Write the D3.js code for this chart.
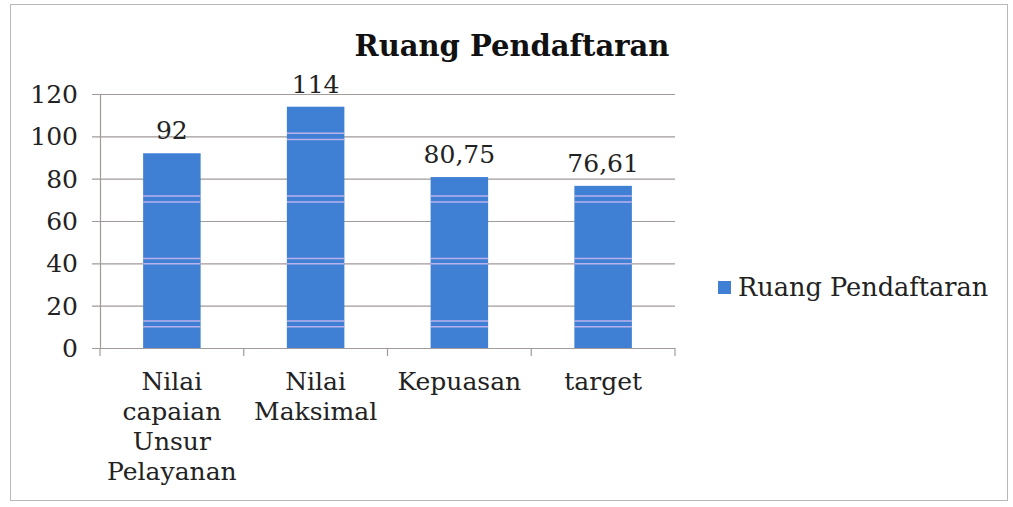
<!DOCTYPE html>
<html><head><meta charset="utf-8">
<script src="https://cdn.jsdelivr.net/npm/d3@7"></script>
<style>body{margin:0;background:#fff;}svg{display:block;}</style>
</head><body>
<svg id="c" width="1013" height="507"></svg>
<script>
const categories = [["Nilai","capaian","Unsur","Pelayanan"],["Nilai","Maksimal"],["Kepuasan"],["target"]];
const values = [92, 114, 80.75, 76.61];
const labels = ["92","114","80,75","76,61"];
const yTicks = [0,20,40,60,80,100,120];
const seriesName = "Ruang Pendaftaran";
const title = "Ruang Pendaftaran";
const stripeVals = [101.5, 98.5, 71.8, 69, 42.3, 39.8, 12.8, 10];

const svg = d3.select("#c");
const font = "'DejaVu Serif', serif";
const m = {l:100, r:675, t:94, b:348};
svg.append("rect").attr("x",10.5).attr("y",4.5).attr("width",997).attr("height",496)
  .attr("fill","#fff").attr("stroke","#b8b8b8").attr("stroke-width",1);

const x = d3.scaleBand().domain(d3.range(values.length)).range([m.l,m.r]).paddingInner(0.6).paddingOuter(0.3);
const y = d3.scaleLinear().domain([0,120]).range([m.b,m.t]);

// grid
svg.append("g").selectAll("line").data(yTicks).join("line")
  .attr("x1",m.l-8).attr("x2",m.r).attr("y1",d=>y(d)+0.5).attr("y2",d=>y(d)+0.5)
  .attr("stroke","#a09a98").attr("stroke-width",1.2);
// y labels
svg.append("g").selectAll("text").data(yTicks).join("text")
  .attr("x",m.l-22).attr("y",d=>y(d)+9).attr("text-anchor","end")
  .attr("font-family",font).attr("font-size",25).attr("fill","#222").text(d=>d);
// y axis line
svg.append("line").attr("x1",m.l+0.5).attr("x2",m.l+0.5).attr("y1",m.t).attr("y2",m.b)
  .attr("stroke","#a09a98").attr("stroke-width",1.2);
// x ticks
const step = x.step();
svg.append("g").selectAll("line").data(d3.range(values.length+1)).join("line")
  .attr("x1",i=>m.l+i*step).attr("x2",i=>m.l+i*step).attr("y1",m.b).attr("y2",m.b+8)
  .attr("stroke","#a09a98").attr("stroke-width",1.2);

// bars
svg.append("g").selectAll("rect").data(values).join("rect")
  .attr("x",(d,i)=>x(i)).attr("width",x.bandwidth())
  .attr("y",d=>y(d)).attr("height",d=>m.b-y(d)).attr("fill","#3f80d5");
// stripes (scan)
const sg = svg.append("g");
values.forEach((v,i)=>{
  stripeVals.filter(s=>s<v).forEach(s=>{
    sg.append("line").attr("x1",x(i)).attr("x2",x(i)+x.bandwidth())
      .attr("y1",y(s)).attr("y2",y(s)).attr("stroke","#c9b8f0").attr("stroke-width",1.5).attr("opacity",0.9);
  });
});
// value labels
svg.append("g").selectAll("text").data(values).join("text")
  .attr("x",(d,i)=>x(i)+x.bandwidth()/2).attr("y",d=>y(d)-14).attr("text-anchor","middle")
  .attr("font-family",font).attr("font-size",25).attr("fill","#222").text((d,i)=>labels[i]);
// category labels
const cg = svg.append("g");
categories.forEach((lines,i)=>{
  lines.forEach((t,j)=>{
    cg.append("text").attr("x",x(i)+x.bandwidth()/2).attr("y",m.b+42+j*30)
      .attr("text-anchor","middle").attr("font-family",font).attr("font-size",25).attr("fill","#222").text(t);
  });
});
// title
svg.append("text").attr("x",512).attr("y",56).attr("text-anchor","middle")
  .attr("font-family",font).attr("font-weight","bold").attr("font-size",29).attr("fill","#111").text(title);
// legend
svg.append("rect").attr("x",718).attr("y",281).attr("width",13).attr("height",13).attr("fill","#3f80d5");
svg.append("text").attr("x",738).attr("y",296).attr("font-family",font).attr("font-size",25.6).attr("fill","#222").text(seriesName);
</script>
</body></html>
